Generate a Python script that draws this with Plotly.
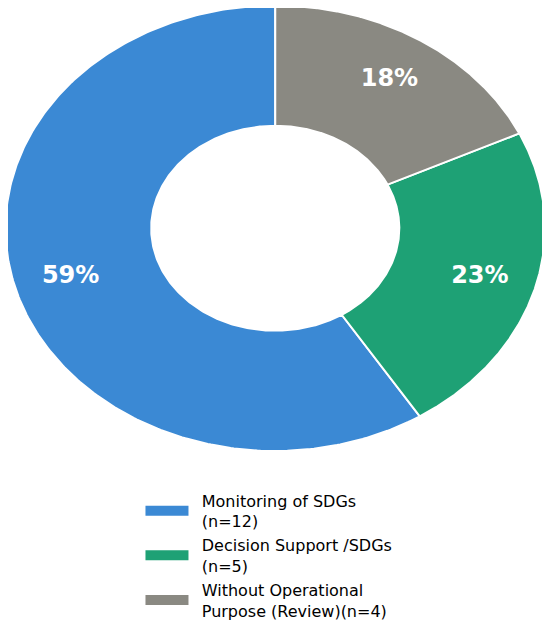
import numpy as np
import plotly.graph_objects as go

# Data
categories = [
    "Monitoring of SDGs<br>(n=12)",
    "Decision Support /SDGs<br>(n=5)",
    "Without Operational<br>Purpose (Review)(n=4)",
]
counts = [12, 5, 4]
shares = [59, 23, 18]
pct_labels = ["59%", "23%", "18%"]
colors = ["#3b89d4", "#1ea175", "#8a8982"]

HOLE = 0.46
LABEL_R = 0.79
PAD = "\u00a0\u2009"

fig = go.Figure()
total = float(sum(shares))
cum = 0.0
lx, ly = [], []
for i, (name, s, col) in enumerate(zip(categories, shares, colors)):
    a0 = cum / total * 2 * np.pi
    a1 = (cum + s) / total * 2 * np.pi
    t = np.linspace(a0, a1, 300)
    # angle counter-clockwise from 12 o'clock
    xo, yo = -np.sin(t), np.cos(t)
    xs = np.concatenate([xo, HOLE * xo[::-1], xo[:1]])
    ys = np.concatenate([yo, HOLE * yo[::-1], yo[:1]])
    fig.add_trace(go.Scatter(
        x=xs, y=ys, mode="lines", fill="toself", fillcolor=col,
        line=dict(color="white", width=2), name=name, hoverinfo="skip",
        legendgroup=f"g{i}", showlegend=False,
    ))
    # legend entry for the slice
    fig.add_trace(go.Scatter(
        x=[None], y=[None], mode="lines", line=dict(color=col, width=12),
        name=PAD + name.replace("<br>", "<br>" + PAD),
        legendgroup=f"g{i}", showlegend=True, hoverinfo="skip",
    ))
    mid = (a0 + a1) / 2
    lx.append(-LABEL_R * np.sin(mid))
    ly.append(LABEL_R * np.cos(mid))
    cum += s

fig.add_trace(go.Scatter(
    x=lx, y=ly, mode="text", text=pct_labels, showlegend=False,
    textfont=dict(family="DejaVu Sans", size=24, color="white", weight="bold"),
    hoverinfo="skip",
))

fig.update_xaxes(visible=False, range=[-0.99073, 1.0], fixedrange=True)
fig.update_yaxes(visible=False, range=[-1.0, 0.98879], fixedrange=True)
fig.update_layout(
    width=550, height=624,
    margin=dict(l=0, r=13, t=0, b=180.5, autoexpand=False),
    paper_bgcolor="white", plot_bgcolor="white",
    showlegend=True,
    legend=dict(
        x=0.2467, xanchor="left", y=-0.0733, yanchor="top",
        font=dict(family="DejaVu Sans", size=16, color="black"),
        itemwidth=43, bgcolor="rgba(0,0,0,0)", tracegroupgap=0,
    ),
)
fig.write_html("out.html")
